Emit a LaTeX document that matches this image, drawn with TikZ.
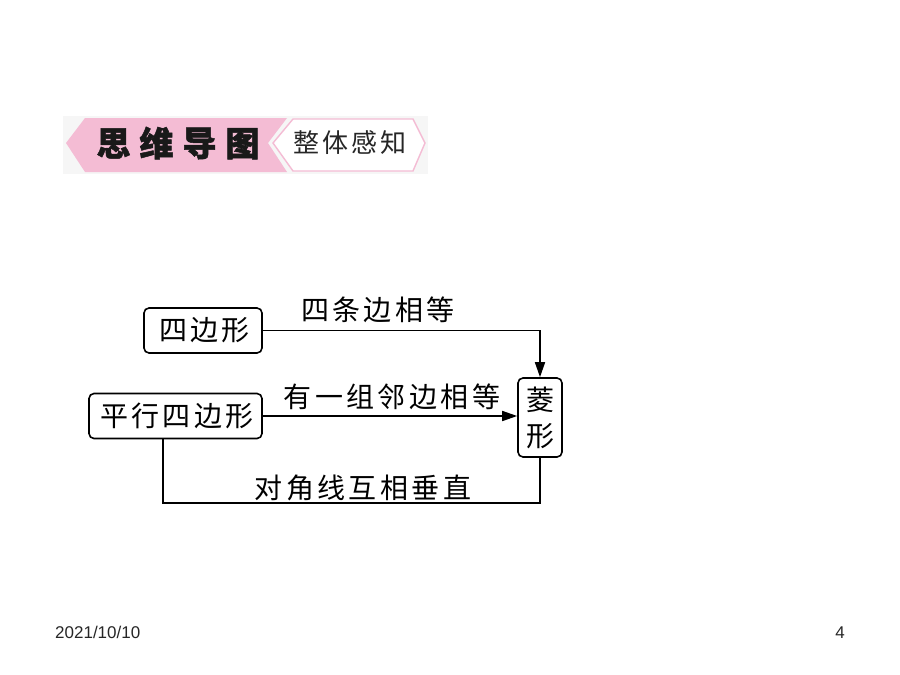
\documentclass[tikz,border=0pt]{standalone}
\usepackage{fontspec}
\setmainfont{Liberation Sans}
\newfontfamily\cjk{Noto Sans CJK SC}
\newfontfamily\cjkw[LetterSpace=12]{Noto Sans CJK SC}
\newfontfamily\cjkh[BoldFeatures={FakeBold=1.5}]{Noto Sans CJK SC}
\usetikzlibrary{arrows.meta}
\definecolor{bpink}{HTML}{F4BCD4}
\definecolor{bgray}{HTML}{F6F6F6}
\tikzset{
  box/.style={draw, line width=1.6pt, rounded corners=5pt, inner sep=0pt, anchor=center, font=\cjkw\fontsize{28}{30}\selectfont},
  lbl/.style={inner sep=0pt, anchor=center, font=\cjkw\fontsize{28}{30}\selectfont},
  conn/.style={line width=1.6pt},
  arr/.style={conn, -{Triangle[length=15pt,width=10pt]}},
  foot/.style={inner sep=0pt, font=\fontsize{17}{19}\selectfont, text=black!85},
}
\begin{document}
\begin{tikzpicture}[x=1pt,y=-1pt]
\useasboundingbox (0,0) rectangle (900,675);
% header banner
\fill[bgray] (63,116) rectangle (428,174);
\fill[bpink] (66,143) -- (85,118) -- (287,118) -- (268,143) -- (287,172) -- (85,172) -- cycle;
\draw[bpink, line width=1.4pt, fill=white] (273,143) -- (293,119) -- (413,119) -- (425,143) -- (413,171) -- (293,171) -- cycle;
\node[inner sep=0pt, font=\cjkh\bfseries\fontsize{34}{36}\selectfont, text=black!90] (h1) at (178,143) {思\hspace{9pt}维\hspace{9pt}导\hspace{9pt}图};
\node[inner sep=0pt, font=\cjk\fontsize{26}{28}\selectfont, text=black!85] (h2) at (350,143) {整\hspace{3pt}体\hspace{3pt}感\hspace{3pt}知};
% boxes
\node[box, minimum width=118pt, minimum height=45pt] (s) at (203,330.5) {\hspace{3pt}四边形};
\node[box, minimum width=173pt, minimum height=45pt] (p) at (175.5,416) {\hspace{3pt}平行四边形};
\node[box, minimum width=44pt, minimum height=79pt, align=center, font=\cjk\fontsize{28}{30}\selectfont] (l) at (540,417.5) {菱\\[6pt]形};
% connectors
\draw[arr] (s.east) -| (l.north);
\draw[arr] (p.east) -- (l.west |- p.east);
\coordinate (bl) at (163,503);
\draw[conn] (bl |- p.south) -- (bl) -| (l.south);
% labels
\node[lbl] (t1) at (378,310) {四条边相等};
\node[lbl] (t2) at (392,397) {有一组邻边相等};
\node[lbl] (t3) at (363,488) {对角线互相垂直};
% footer
\node[foot, anchor=base west] (d) at (55,638) {2021/10/10};
\node[foot, anchor=base] (n) at (840,638) {4};
\end{tikzpicture}
\end{document}
